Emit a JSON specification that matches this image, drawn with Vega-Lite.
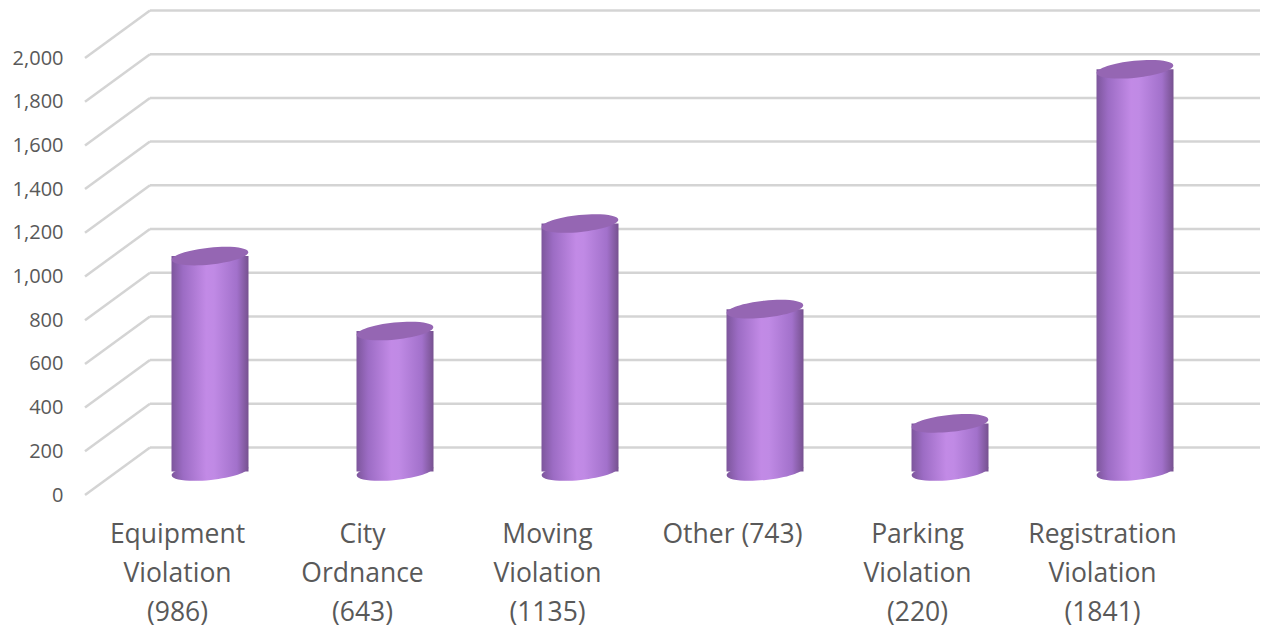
{
  "$schema": "https://vega.github.io/schema/vega-lite/v6.json",
  "autosize": {"type": "none"},
  "padding": {"left": 85, "top": 58, "right": 68, "bottom": 135},
  "width": 1110,
  "height": 437,
  "background": "white",
  "config": {"view": {"stroke": null}, "font": "Open Sans"},
  "datasets": {
    "bars": [
      {"cat": "Equipment|Violation|(986)", "v": 986},
      {"cat": "City|Ordnance|(643)", "v": 643},
      {"cat": "Moving|Violation|(1135)", "v": 1135},
      {"cat": "Other (743)", "v": 743},
      {"cat": "Parking|Violation|(220)", "v": 220},
      {"cat": "Registration|Violation|(1841)", "v": 1841}
    ],
    "grid": [
      {"g": 0}, {"g": 200}, {"g": 400}, {"g": 600}, {"g": 800}, {"g": 1000},
      {"g": 1200}, {"g": 1400}, {"g": 1600}, {"g": 1800}, {"g": 2000}
    ]
  },
  "encoding": {
    "x": {
      "field": "cat", "type": "nominal", "sort": null,
      "scale": {"domain": ["Equipment|Violation|(986)", "City|Ordnance|(643)", "Moving|Violation|(1135)", "Other (743)", "Parking|Violation|(220)", "Registration|Violation|(1841)"], "paddingInner": 0, "paddingOuter": 0},
      "axis": {"title": null, "ticks": false, "domain": false, "labelAngle": 0, "labelExpr": "split(datum.value, '|')", "labelFontSize": 26.5, "labelLineHeight": 39, "labelColor": "#595959", "labelPadding": 26, "labelFont": "Open Sans"}
    }
  },
  "layer": [
    {
      "data": {"name": "grid"},
      "mark": {"type": "rule", "stroke": "#d4d4d4", "strokeWidth": 2.5, "xOffset": 65, "x2Offset": 65, "yOffset": -47.5},
      "encoding": {
        "x": {"datum": "Equipment|Violation|(986)", "type": "nominal", "bandPosition": 0},
        "x2": {"datum": "Registration|Violation|(1841)", "bandPosition": 1},
        "y": {"field": "g", "type": "quantitative", "scale": {"domain": [0, 2000], "nice": false},
          "axis": {"title": null, "values": [0, 200, 400, 600, 800, 1000, 1200, 1400, 1600, 1800, 2000], "format": ",.0f", "ticks": false, "domain": false, "grid": false, "labelFontSize": 20, "labelColor": "#595959", "labelPadding": 22, "labelFont": "Open Sans"}}
      }
    },
    {
      "data": {"name": "grid"},
      "mark": {"type": "rule", "stroke": "#d4d4d4", "strokeWidth": 2.5, "x2Offset": 65, "y2Offset": -47.5},
      "encoding": {
        "x": {"datum": "Equipment|Violation|(986)", "type": "nominal", "bandPosition": 0},
        "x2": {"datum": "Equipment|Violation|(986)", "bandPosition": 0},
        "y": {"field": "g", "type": "quantitative"},
        "y2": {"field": "g"}
      }
    },
    {
      "data": {"name": "bars"},
      "mark": {"type": "point", "shape": "M-1,0A1,0.22,0,1,0,1,0A1,0.22,0,1,0,-1,0Z", "size": 5929, "angle": -6, "filled": true, "opacity": 1, "strokeWidth": 0, "xOffset": 32.5, "yOffset": -23.5,
        "fill": {"gradient": "linear", "x1": 0, "x2": 1, "y1": 0, "y2": 0, "stops": [{"offset": 0, "color": "#7d569c"}, {"offset": 0.15, "color": "#9c6cc4"}, {"offset": 0.45, "color": "#c28ae6"}, {"offset": 0.55, "color": "#c08ae5"}, {"offset": 0.85, "color": "#a271cb"}, {"offset": 1, "color": "#76518f"}]}},
      "encoding": {
        "y": {"datum": 0, "type": "quantitative"}
      }
    },
    {
      "data": {"name": "bars"},
      "mark": {"type": "bar", "width": 77, "xOffset": 32.5, "yOffset": -23.5, "y2Offset": -23.5,
        "fill": {"gradient": "linear", "x1": 0, "x2": 1, "y1": 0, "y2": 0, "stops": [{"offset": 0, "color": "#7d569c"}, {"offset": 0.15, "color": "#9c6cc4"}, {"offset": 0.45, "color": "#c28ae6"}, {"offset": 0.55, "color": "#c08ae5"}, {"offset": 0.85, "color": "#a271cb"}, {"offset": 1, "color": "#76518f"}]}},
      "encoding": {
        "y": {"field": "v", "type": "quantitative"}
      }
    },
    {
      "data": {"name": "bars"},
      "mark": {"type": "point", "shape": "M-1,0A1,0.22,0,1,0,1,0A1,0.22,0,1,0,-1,0Z", "size": 5929, "angle": -6, "filled": true, "opacity": 1, "strokeWidth": 0, "fill": "#9566b3", "xOffset": 32.5, "yOffset": -23.5},
      "encoding": {
        "y": {"field": "v", "type": "quantitative"}
      }
    }
  ]
}
